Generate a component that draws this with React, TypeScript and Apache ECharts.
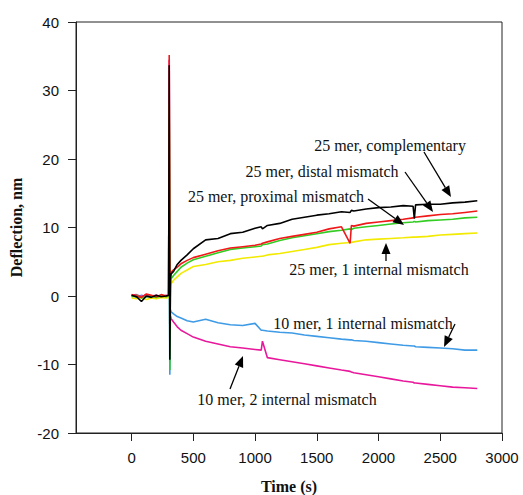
import React, { useEffect, useRef } from "react";
import * as echarts from "echarts";

// Time axis (s)
const time = [0, 40, 80, 120, 160, 200, 240, 280, 300, 305, 310, 315, 320, 340, 370, 400, 450, 500, 600, 700, 800, 900, 1000, 1050, 1060, 1100, 1200, 1300, 1400, 1500, 1600, 1700, 1770, 1780, 1800, 1900, 2000, 2100, 2200, 2280, 2290, 2300, 2400, 2500, 2600, 2700, 2800];

// Deflection (nm) per curve
const complementary25 = [0.1, -0.1, -0.8, 0.0, -0.2, 0.1, -0.1, 0.0, 0.1, 33.7, -9.3, 2.5, 3.2, 3.6, 4.6, 5.2, 6.0, 6.9, 8.2, 8.4, 9.1, 9.3, 9.9, 10.1, 9.8, 10.3, 10.6, 11.2, 11.5, 11.8, 12.0, 12.3, 12.2, 12.5, 12.4, 12.7, 12.9, 13.0, 13.2, 13.1, 11.3, 13.3, 13.4, 13.4, 13.6, 13.7, 13.9];
const distal25 = [0.2, 0.0, -0.2, 0.3, 0.1, -0.1, 0.2, 0.0, 0.1, 35.2, 1.5, 3.0, 3.5, 3.8, 4.2, 4.7, 5.2, 5.6, 6.1, 6.6, 7.0, 7.2, 7.4, 7.6, 7.7, 7.9, 8.4, 8.7, 9.0, 9.3, 9.8, 10.1, 7.7, 10.3, 10.2, 10.6, 10.8, 11.0, 11.2, 11.4, 11.5, 11.5, 11.7, 11.9, 12.0, 12.2, 12.4];
const proximal25 = [-0.1, 0.1, -0.3, -0.1, 0.0, -0.2, 0.0, -0.1, 0.0, 26.0, -10.8, 1.5, 2.5, 3.0, 3.6, 4.2, 4.8, 5.3, 5.8, 6.3, 6.8, 7.0, 7.2, 7.3, 7.5, 7.6, 8.1, 8.5, 8.8, 9.1, 9.4, 9.6, 9.8, 9.7, 9.9, 10.1, 10.3, 10.5, 10.7, 10.8, 10.9, 10.8, 11.0, 11.1, 11.2, 11.4, 11.5];
const internal25 = [-0.3, -0.4, -0.2, -0.5, -0.3, -0.4, -0.2, -0.3, -0.2, 28.0, -2.0, 1.0, 1.8, 2.3, 2.8, 3.3, 3.8, 4.3, 4.6, 5.0, 5.2, 5.5, 5.7, 5.8, 5.8, 6.0, 6.2, 6.5, 6.8, 7.1, 7.5, 7.7, 7.8, 7.8, 7.9, 8.2, 8.3, 8.4, 8.5, 8.6, 8.6, 8.6, 8.7, 8.9, 9.0, 9.1, 9.2];
const internal10One = [0.0, -0.2, 0.1, -0.1, 0.0, -0.2, 0.1, -0.1, 0.0, 5.0, -11.5, -2.0, -2.3, -2.6, -3.0, -3.2, -3.6, -3.8, -3.4, -3.9, -4.2, -4.3, -4.0, -5.0, -5.0, -5.1, -5.3, -5.4, -5.7, -5.9, -6.1, -6.3, -6.4, -6.4, -6.5, -6.6, -6.8, -7.0, -7.2, -7.3, -7.3, -7.4, -7.5, -7.6, -7.7, -7.9, -7.9];
const internal10Two = [0.1, 0.2, -0.1, 0.2, 0.0, 0.1, -0.1, 0.1, 0.0, 34.5, -2.5, -3.0, -3.3, -3.8, -4.5, -5.0, -5.5, -6.0, -6.6, -7.0, -7.4, -7.6, -7.8, -7.9, -6.6, -9.0, -9.3, -9.6, -9.9, -10.2, -10.5, -10.8, -11.0, -11.1, -11.2, -11.5, -11.8, -12.1, -12.4, -12.6, -12.7, -12.7, -12.9, -13.1, -13.3, -13.4, -13.5];

const xTicks = [0, 500, 1000, 1500, 2000, 2500, 3000];

const seriesDefs = [
  { name: "10 mer, 1 internal mismatch", values: internal10One, color: "#3f9be6" },
  { name: "10 mer, 2 internal mismatch", values: internal10Two, color: "#e8189c" },
  { name: "25 mer, 1 internal mismatch", values: internal25, color: "#f2ea00" },
  { name: "25 mer, proximal mismatch", values: proximal25, color: "#33cc22" },
  { name: "25 mer, distal mismatch", values: distal25, color: "#f01818" },
  { name: "25 mer, complementary", values: complementary25, color: "#000000" },
];

// annotation labels: text, center x, center y, arrow from (ax1, ay1) to tip (ax2, ay2)
const notes = [
  { text: "25 mer, complementary", x: 390, y: 145, a: [424, 152, 451, 197] },
  { text: "25 mer, distal mismatch", x: 322, y: 171, a: [405, 172, 433, 212] },
  { text: "25 mer, proximal mismatch", x: 276, y: 196, a: [368, 199, 404, 225] },
  { text: "25 mer, 1 internal mismatch", x: 379, y: 269, a: [386, 261, 386, 243] },
  { text: "10 mer, 1 internal mismatch", x: 363, y: 323, a: [455, 324, 444, 347] },
  { text: "10 mer, 2 internal mismatch", x: 287, y: 399, a: [230, 389, 243, 356] },
];

function arrow(x1: number, y1: number, x2: number, y2: number) {
  const head = 11;
  const w = 4.5;
  const dx = x2 - x1;
  const dy = y2 - y1;
  const L = Math.hypot(dx, dy);
  const ux = dx / L;
  const uy = dy / L;
  const bx = x2 - ux * head;
  const by = y2 - uy * head;
  const px = -uy;
  const py = ux;
  return [
    { type: "line", shape: { x1, y1, x2: bx, y2: by }, style: { stroke: "#000", lineWidth: 1.3 } },
    {
      type: "polygon",
      shape: { points: [[x2, y2], [bx + px * w, by + py * w], [bx - px * w, by - py * w]] },
      style: { fill: "#000" },
    },
  ];
}

export default function App() {
  const ref = useRef<HTMLDivElement>(null);
  useEffect(() => {
    if (!ref.current) return;
    const chart = echarts.init(ref.current, null, { renderer: "svg" });
    const graphics: any[] = [];
    notes.forEach((n) => {
      graphics.push({
        type: "text",
        x: n.x,
        y: n.y,
        z: 100,
        style: {
          text: n.text,
          fill: "#111",
          font: "16px 'Liberation Serif', 'Times New Roman', serif",
          textAlign: "center",
          textVerticalAlign: "middle",
        },
      });
      arrow(n.a[0], n.a[1], n.a[2], n.a[3]).forEach((g) => graphics.push({ ...g, z: 100 }));
    });
    chart.setOption({
      animation: false,
      backgroundColor: "#fff",
      grid: {
        left: 76,
        top: 22,
        right: 21,
        bottom: 62,
        show: true,
        borderColor: "#222",
        borderWidth: 1,
        containLabel: false,
        outerBoundsMode: "none",
      },
      xAxis: {
        type: "value",
        min: -450,
        max: 3000,
        name: "Time (s)",
        nameLocation: "middle",
        nameGap: 45,
        nameTextStyle: { fontFamily: "'Liberation Serif', serif", fontWeight: "bold", fontSize: 16, color: "#111" },
        axisLine: { show: true, onZero: false, lineStyle: { color: "#222", width: 1 } },
        axisTick: { show: true, inside: false, length: 8, customValues: xTicks, lineStyle: { color: "#222" } },
        axisLabel: {
          customValues: xTicks,
          margin: 17,
          formatter: (v: number) => String(v),
          fontFamily: "'Liberation Sans', Arial, sans-serif",
          fontSize: 15,
          color: "#111",
        },
        splitLine: { show: false },
      },
      yAxis: {
        type: "value",
        min: -20,
        max: 40,
        interval: 10,
        name: "Deflection, nm",
        nameLocation: "middle",
        nameGap: 52,
        nameTextStyle: { fontFamily: "'Liberation Serif', serif", fontWeight: "bold", fontSize: 16, color: "#111" },
        axisLine: { show: true, onZero: false, lineStyle: { color: "#222", width: 1 } },
        axisTick: { show: true, inside: false, length: 8, lineStyle: { color: "#222" } },
        axisLabel: {
          margin: 17,
          formatter: (v: number) => String(v),
          fontFamily: "'Liberation Sans', Arial, sans-serif",
          fontSize: 15,
          color: "#111",
        },
        splitLine: { show: false },
      },
      series: seriesDefs.map((s) => ({
        name: s.name,
        type: "line",
        data: time.map((t, i) => [t, s.values[i]]),
        showSymbol: false,
        symbol: "none",
        lineStyle: { color: s.color, width: 1.6 },
        itemStyle: { color: s.color },
      })),
      graphic: graphics,
    });
    return () => chart.dispose();
  }, []);
  return <div ref={ref} style={{ width: 523, height: 495, position: "absolute", left: 0, top: 0 }} />;
}
